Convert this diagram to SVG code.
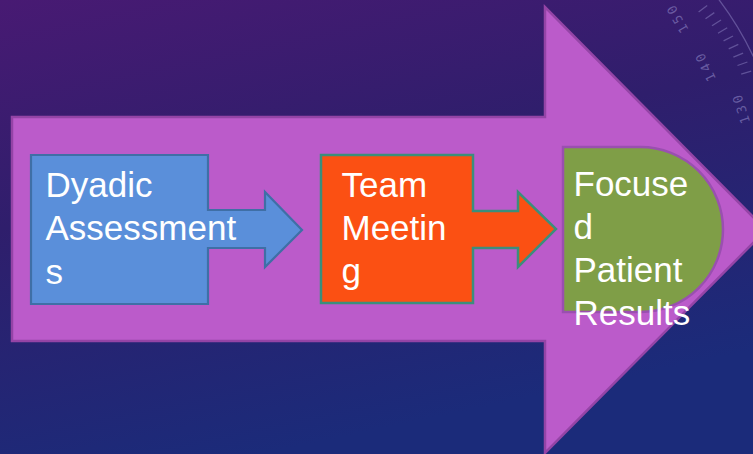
<svg xmlns="http://www.w3.org/2000/svg" width="753" height="454" viewBox="0 0 753 454">
  <defs>
    <linearGradient id="bg" x1="0" y1="0" x2="0.35" y2="1">
      <stop offset="0" stop-color="#481a73"/>
      <stop offset="0.45" stop-color="#2f1e6c"/>
      <stop offset="1" stop-color="#1b2b7a"/>
    </linearGradient>
    <style>
      .lbl { font-family: "Liberation Sans", Arial, sans-serif; font-size: 35px; fill: #ffffff; }
      .dial { fill: none; stroke: #8f86c6; stroke-opacity: 0.5; stroke-width: 1.3; }
      .num { font-family: "DejaVu Sans Mono", monospace; font-size: 13px; fill: #8f86c6; fill-opacity: 0.6; letter-spacing: 3px; }
    </style>
  </defs>

  <rect x="0" y="0" width="753" height="454" fill="url(#bg)"/>

  <g id="dial-decoration">
    <path class="dial" d="M 711.2 -10.2 A 322 322 0 0 1 770 100"/>
    <g class="dial">
      <line x1="698.6" y1="12.0" x2="707.2" y2="5.5"/>
      <line x1="705.5" y1="18.7" x2="714.3" y2="12.6"/>
      <line x1="712.0" y1="25.8" x2="721.0" y2="20.0"/>
      <line x1="718.0" y1="33.2" x2="727.2" y2="27.8"/>
      <line x1="723.6" y1="40.9" x2="733.0" y2="36.0"/>
      <line x1="728.7" y1="48.8" x2="738.3" y2="44.4"/>
      <line x1="733.4" y1="57.1" x2="743.1" y2="53.1"/>
      <line x1="737.5" y1="65.5" x2="747.4" y2="62.0"/>
      <line x1="741.2" y1="74.2" x2="751.2" y2="71.2"/>
    </g>
    <text class="num" x="677" y="18" text-anchor="middle" dominant-baseline="central" transform="rotate(-120 677 18)">150</text>
    <text class="num" x="705" y="66" text-anchor="middle" dominant-baseline="central" transform="rotate(-116 705 66)">140</text>
    <text class="num" x="741" y="108" text-anchor="middle" dominant-baseline="central" transform="rotate(-108 741 108)">130</text>
  </g>

  <g id="process-arrow">
    <path d="M12,117 H545 V7 L766,230 L545,453 V341 H12 Z" fill="#bb5bca" stroke="#9444a6" stroke-width="2.5" stroke-linejoin="miter"/>
  </g>

  <g id="connectors"></g>

  <g id="node-dyadic">
    <path d="M31,155 H208 V210 H265 V192 L302,230 L265,267 V248 H208 V304 H31 Z" fill="#5a8fda" stroke="#3f6fa6" stroke-width="2.2"/>
    <text class="lbl" x="45.5" y="196.5">Dyadic</text>
    <text class="lbl" x="45.5" y="240">Assessment</text>
    <text class="lbl" x="45.5" y="283.5">s</text>
  </g>

  <g id="node-team">
    <path d="M321,155 H473 V211 H518 V192 L556,229 L518,267 V248 H473 V303 H321 Z" fill="#fb5013" stroke="#3b8e7b" stroke-width="2.5"/>
    <text class="lbl" x="341.5" y="197">Team</text>
    <text class="lbl" x="341.5" y="240">Meetin</text>
    <text class="lbl" x="341.5" y="283">g</text>
  </g>

  <g id="node-results">
    <path d="M563,147 H640.5 A82.5,82.5 0 0 1 640.5,312 H563 Z" fill="#7f9e47" stroke="#9a4fb0" stroke-width="2.5"/>
    <text class="lbl" x="573.5" y="195.5">Focuse</text>
    <text class="lbl" x="573.5" y="238.8">d</text>
    <text class="lbl" x="573.5" y="282">Patient</text>
    <text class="lbl" x="573.5" y="325.3">Results</text>
  </g>
</svg>
